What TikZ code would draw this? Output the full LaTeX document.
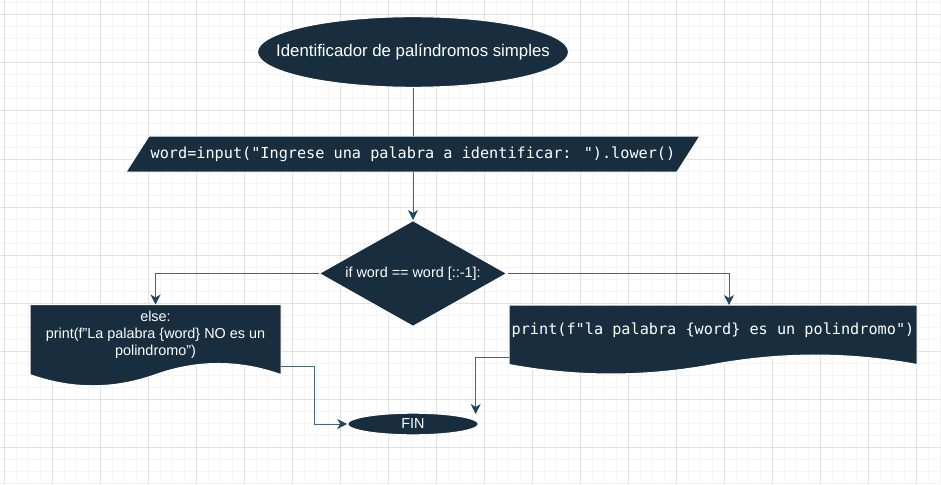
\documentclass[tikz,border=0pt]{standalone}
\usepackage{fontspec}
\setmainfont{Liberation Sans}
\newfontfamily\codefont{DejaVu Sans Mono}
\usetikzlibrary{shapes.geometric,arrows.meta}
\definecolor{navy}{HTML}{182E3E}
\definecolor{edgeline}{HTML}{4A6478}
\definecolor{edgetip}{HTML}{23445D}
\definecolor{gridminor}{HTML}{F4F4F4}
\definecolor{gridmajor}{HTML}{E2E2E2}
\begin{document}
\begin{tikzpicture}[x=1pt,y=-1pt,
  shp/.style={fill=navy,draw=white,line width=1pt},
  hole/.style={inner sep=0pt,outer sep=0pt},
  lbl/.style={text=white,font=\fontsize{14.4pt}{17pt}\selectfont,align=center,inner sep=0pt},
  code/.style={text=white,font=\codefont\fontsize{15.2pt}{18pt}\selectfont,inner sep=0pt},
  conn/.style={draw=edgeline,line width=1pt,-{Stealth[length=10pt,width=10pt,inset=3pt,color=edgetip]}},
  plain/.style={draw=edgeline,line width=1pt},
]
\useasboundingbox (0,0) rectangle (941,484);
\fill[white] (0,0) rectangle (941,484);
% grid
\foreach \k in {0,...,78} \draw[gridminor,line width=1pt] ({4.5+12*\k},0) -- ({4.5+12*\k},484);
\foreach \k in {0,...,40} \draw[gridminor,line width=1pt] (0,{3+12*\k}) -- (941,{3+12*\k});
\foreach \k in {0,...,19} \draw[gridmajor,line width=1pt] ({4.5+48*\k},0) -- ({4.5+48*\k},484);
\foreach \k in {0,...,9} \draw[gridmajor,line width=1pt] (0,{15+48*\k}) -- (941,{15+48*\k});

% title
\node[ellipse, shp, minimum width=311pt, minimum height=70.6pt, inner sep=0pt] (title) at (413,52) {};
\node[lbl, font=\fontsize{16.8pt}{20pt}\selectfont] (titleT) at (title) {Identificador de palíndromos simples};

% input parallelogram
\draw[shp] (149,136) -- (700,136) -- (677,172) -- (126,172) -- cycle;
\node[code, minimum width=574pt, minimum height=36pt] (inp) at (413,154) {word=input("Ingrese una palabra a identificar: ").lower()};

% decision
\node[diamond, shp, minimum width=188pt, minimum height=106pt, inner sep=0pt] (dec) at (413,273.5) {};
\node[lbl] (decT) at (dec) {if word == word [::-1]:};

% left document
\draw[shp] (30,304.5) -- (281,304.5) -- (281,374.6)
  .. controls (239.17,359.77) and (197.33,359.77) .. (155.5,374.6)
  .. controls (113.67,389.47) and (71.83,389.47) .. (30,374.6) -- cycle;
\node[hole, minimum width=251pt, minimum height=82.5pt] (ldoc) at (155.5,345.75) {};
\node[lbl] (ldocT) at (155.5,335) {else:\\print(f"La palabra \{word\} NO es un\\polindromo")};

% right document
\draw[shp] (509,305) -- (917,305) -- (917,364.5)
  .. controls (849,351.9) and (781,351.9) .. (713,364.5)
  .. controls (645,377.1) and (577,377.1) .. (509,364.5) -- cycle;
\node[hole, minimum width=408pt, minimum height=70pt] (rdoc) at (713,340) {};
\node[code] (rdocT) at (713,330) {print(f"la palabra \{word\} es un polindromo")};

% end
\node[ellipse, shp, minimum width=130.6pt, minimum height=21.6pt, inner sep=0pt] (fin) at (413,424) {};
\node[lbl] (finT) at (fin) {FIN};

% connectors
\draw[plain] (title.south) -- (inp.north);
\draw[conn] (inp.south) -- (dec.north);
\draw[conn] (dec.west) -| (ldoc.north);
\draw[conn] (dec.east) -| ([xshift=16pt]rdoc.north);
\draw[conn] ([yshift=-21pt]ldoc.east) -- ++(33,0) |- (fin.west);
\coordinate (finR) at (475.7,414);
\draw[conn] ([yshift=-17.7pt]rdoc.west) -| (finR);
\end{tikzpicture}
\end{document}
